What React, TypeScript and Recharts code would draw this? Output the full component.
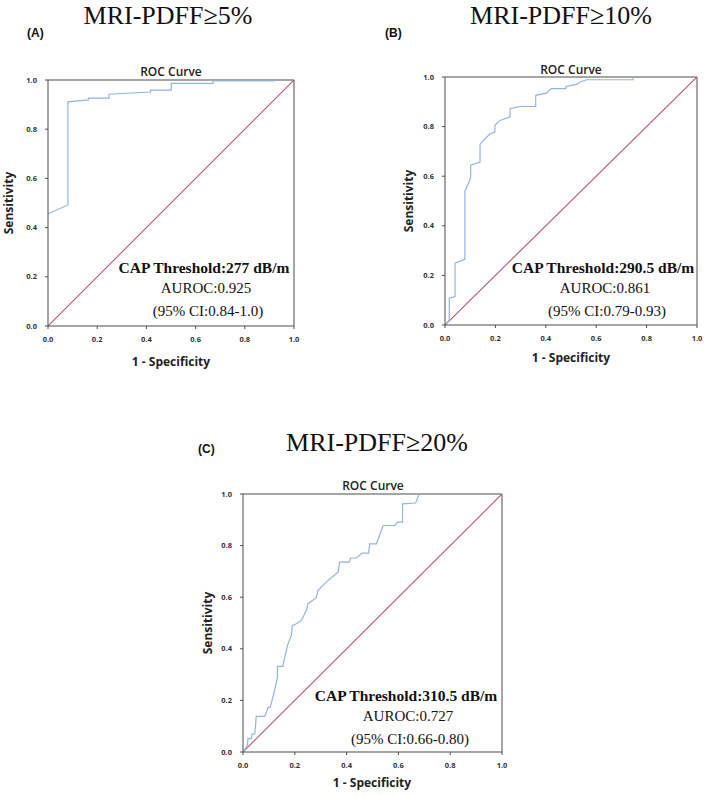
import React from "react";
import { LineChart, Line, XAxis, YAxis, ReferenceLine } from "recharts";

// ROC curve points (1 - specificity, sensitivity)
const rocA_x = [0, 0.081, 0.081, 0.164, 0.164, 0.248, 0.248, 0.417, 0.417, 0.501, 0.501, 0.671, 0.671, 0.919, 0.919];
const rocA_y = [0.456, 0.492, 0.911, 0.919, 0.926, 0.926, 0.942, 0.951, 0.959, 0.959, 0.986, 0.986, 0.996, 0.996, 1.0];

const rocB_x = [0, 0.017, 0.017, 0.04, 0.04, 0.079, 0.079, 0.099, 0.102, 0.102, 0.139, 0.139, 0.152, 0.179, 0.198, 0.198, 0.218, 0.258, 0.258, 0.298, 0.36, 0.36, 0.403, 0.421, 0.48, 0.48, 0.523, 0.536, 0.562, 0.747, 0.747];
const rocB_y = [0, 0.02, 0.108, 0.115, 0.249, 0.265, 0.54, 0.585, 0.6, 0.644, 0.657, 0.728, 0.744, 0.771, 0.778, 0.805, 0.825, 0.839, 0.872, 0.881, 0.881, 0.926, 0.935, 0.953, 0.953, 0.962, 0.97, 0.98, 0.989, 0.989, 1.0];

const rocC_x = [0, 0.017, 0.019, 0.032, 0.035, 0.045, 0.048, 0.051, 0.084, 0.093, 0.097, 0.106, 0.112, 0.122, 0.133, 0.133, 0.154, 0.161, 0.174, 0.187, 0.19, 0.206, 0.225, 0.245, 0.251, 0.283, 0.289, 0.328, 0.367, 0.373, 0.41, 0.416, 0.438, 0.46, 0.485, 0.489, 0.515, 0.541, 0.586, 0.597, 0.616, 0.616, 0.667, 0.68];
const rocC_y = [0, 0.026, 0.052, 0.052, 0.069, 0.069, 0.097, 0.138, 0.138, 0.161, 0.174, 0.174, 0.2, 0.239, 0.29, 0.332, 0.332, 0.368, 0.42, 0.452, 0.49, 0.497, 0.51, 0.549, 0.575, 0.598, 0.626, 0.665, 0.697, 0.736, 0.736, 0.752, 0.752, 0.771, 0.771, 0.807, 0.807, 0.878, 0.878, 0.891, 0.891, 0.962, 0.965, 1.0];

// chance line
const refX = [0, 1];
const refY = [0, 1];
const ticks = [0, 0.2, 0.4, 0.6, 0.8, 1.0];

const toRows = (xs: number[], ys: number[]) => xs.map((x, i) => ({ x, y: ys[i] }));

const BORDER = "#4d4d4d";
const BLUE = "#93b3e4";
const RED = "#c4506f";
const SANS = "'Open Sans', sans-serif";
const SERIF = "'Liberation Serif', 'Times New Roman', serif";

type Box = { left: number; top: number; right: number; bottom: number };

function RocPanel({ box, xs, ys }: { box: Box; xs: number[]; ys: number[] }) {
  const m = { top: 20, right: 10, bottom: 0, left: 18 };
  const yw = 30;
  const xh = 24;
  const w = box.right - box.left + m.left + yw + m.right;
  const h = box.bottom - box.top + m.top + xh + m.bottom;
  const tickStyle = { fontSize: 7.5, fontWeight: 700, fill: "#333", fontFamily: SANS };
  return (
    <div style={{ position: "absolute", left: box.left - m.left - yw, top: box.top - m.top }}>
      <LineChart width={w} height={h} margin={m}>
        <XAxis
          type="number"
          dataKey="x"
          domain={[0, 1]}
          ticks={ticks}
          tickFormatter={(v) => v.toFixed(1)}
          stroke={BORDER}
          tick={tickStyle}
          tickSize={3}
          tickMargin={8}
          height={xh}
          allowDataOverflow
        />
        <YAxis
          type="number"
          dataKey="y"
          domain={[0, 1]}
          ticks={ticks}
          tickFormatter={(v) => v.toFixed(1)}
          stroke={BORDER}
          tick={tickStyle}
          tickSize={3}
          tickMargin={8}
          width={yw}
          allowDataOverflow
        />
        <ReferenceLine y={1} stroke={BORDER} strokeWidth={1} />
        <ReferenceLine x={1} stroke={BORDER} strokeWidth={1} />
        <Line data={toRows(refX, refY)} dataKey="y" type="linear" stroke={RED} strokeWidth={1.1} dot={false} isAnimationActive={false} />
        <Line data={toRows(xs, ys)} dataKey="y" type="linear" stroke={BLUE} strokeWidth={1.2} dot={false} isAnimationActive={false} />
      </LineChart>
    </div>
  );
}

function PanelText({ title, tag, tagX, tagY, titleX, titleY, rocX, rocY, sensX, sensY, specX, specY, cap, auroc, ci, annX, capY }: any) {
  return (
    <g>
      <text x={titleX} y={titleY} textAnchor="middle" fontFamily={SERIF} fontSize={26} fill="#111">{title}</text>
      <text x={tagX} y={tagY} fontFamily="'Liberation Sans', Arial, sans-serif" fontWeight={700} fontSize={12} fill="#111">{tag}</text>
      <text x={rocX} y={rocY} textAnchor="middle" fontFamily={SANS} fontWeight={600} fontSize={12} fill="#222">ROC Curve</text>
      <text x={sensX} y={sensY} textAnchor="middle" transform={`rotate(-90 ${sensX} ${sensY})`} fontFamily={SANS} fontWeight={700} fontSize={12} fill="#222">Sensitivity</text>
      <text x={specX} y={specY} textAnchor="middle" fontFamily={SANS} fontWeight={700} fontSize={12} fill="#222">1 - Specificity</text>
      <text x={annX} y={capY} textAnchor="middle" fontFamily={SERIF} fontWeight={700} fontSize={15.5} fill="#111">{cap}</text>
      <text x={annX + 2} y={capY + 20} textAnchor="middle" fontFamily={SERIF} fontSize={15} fill="#111">{auroc}</text>
      <text x={annX + 4} y={capY + 43} textAnchor="middle" fontFamily={SERIF} fontSize={15} fill="#111">{ci}</text>
    </g>
  );
}

export default function App() {
  return (
    <div style={{ position: "absolute", left: 0, top: 0, width: 709, height: 796, background: "#fff" }}>
      <RocPanel box={{ left: 48, top: 80, right: 294, bottom: 326 }} xs={rocA_x} ys={rocA_y} />
      <RocPanel box={{ left: 445, top: 77, right: 697, bottom: 325 }} xs={rocB_x} ys={rocB_y} />
      <RocPanel box={{ left: 243, top: 494, right: 502, bottom: 752 }} xs={rocC_x} ys={rocC_y} />
      <svg width={709} height={796} style={{ position: "absolute", left: 0, top: 0, pointerEvents: "none" }}>
        <PanelText title="MRI-PDFF≥5%" tag="(A)" tagX={27} tagY={37} titleX={168} titleY={24}
          rocX={171} rocY={76} sensX={13} sensY={203} specX={171} specY={366}
          cap="CAP Threshold:277 dB/m" auroc="AUROC:0.925" ci="(95% CI:0.84-1.0)" annX={204} capY={273} />
        <PanelText title="MRI-PDFF≥10%" tag="(B)" tagX={385} tagY={37} titleX={561} titleY={24}
          rocX={571} rocY={74} sensX={413} sensY={201} specX={571} specY={362}
          cap="CAP Threshold:290.5 dB/m" auroc="AUROC:0.861" ci="(95% CI:0.79-0.93)" annX={603} capY={273} />
        <PanelText title="MRI-PDFF≥20%" tag="(C)" tagX={198} tagY={453} titleX={377} titleY={451}
          rocX={373} rocY={490} sensX={212} sensY={623} specX={372} specY={787}
          cap="CAP Threshold:310.5 dB/m" auroc="AUROC:0.727" ci="(95% CI:0.66-0.80)" annX={406} capY={701} />
      </svg>
    </div>
  );
}
